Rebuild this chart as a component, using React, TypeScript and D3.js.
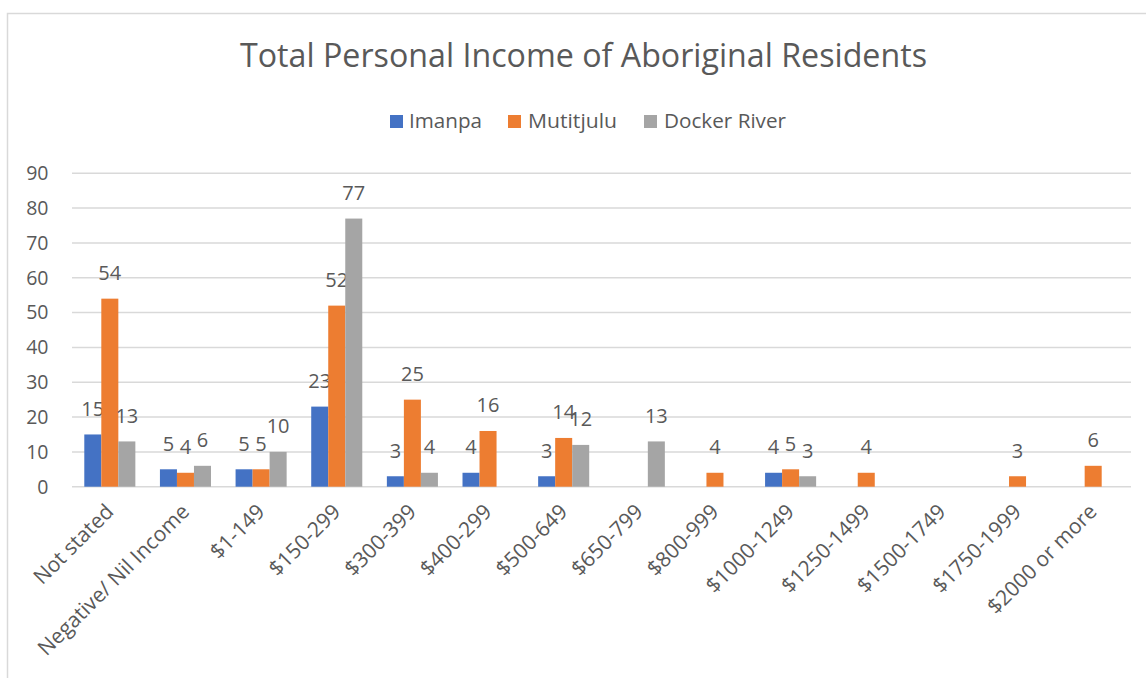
import React from "react";
import * as d3 from "d3";

const categories = [
  "Not stated",
  "Negative/ Nil Income",
  "$1-149",
  "$150-299",
  "$300-399",
  "$400-299",
  "$500-649",
  "$650-799",
  "$800-999",
  "$1000-1249",
  "$1250-1499",
  "$1500-1749",
  "$1750-1999",
  "$2000 or more",
];

const seriesNames = ["Imanpa", "Mutitjulu", "Docker River"];
const seriesColors = ["#4472C4", "#ED7D31", "#A5A5A5"];

const imanpa: (number | null)[] = [15, 5, 5, 23, 3, 4, 3, null, null, 4, null, null, null, null];
const mutitjulu: (number | null)[] = [54, 4, 5, 52, 25, 16, 14, null, 4, 5, 4, null, 3, 6];
const dockerRiver: (number | null)[] = [13, 6, 10, 77, 4, null, 12, 13, null, 3, null, null, null, null];

const yTicks = [0, 10, 20, 30, 40, 50, 60, 70, 80, 90];

const title = "Total Personal Income of Aboriginal Residents";

const FONT = "'Open Sans', sans-serif";
const TEXT = "#595959";
const GRID = "#D9D9D9";

export default function App() {
  const W = 1146;
  const H = 678;
  const left = 72;
  const right = 1131;
  const y = d3.scaleLinear().domain([0, 90]).range([486.7, 173.3]);
  const x0 = d3
    .scaleBand<string>()
    .domain(categories)
    .range([left, right])
    .paddingInner(0.325)
    .paddingOuter(0.1625);
  const x1 = d3.scaleBand<string>().domain(seriesNames).range([0, x0.bandwidth()]);
  const allSeries = [imanpa, mutitjulu, dockerRiver];

  const legendItems = [
    { sx: 390, tx: 409, tw: 73 },
    { sx: 508, tx: 528, tw: 89 },
    { sx: 644, tx: 664, tw: 122 },
  ];

  return (
    <svg
      width={W}
      height={H}
      style={{ position: "absolute", left: 0, top: 0, background: "#fff" }}
      fontFamily={FONT}
    >
      <rect x={7.5} y={13.5} width={W + 20} height={H + 20} fill="#fff" stroke={GRID} strokeWidth={1.5} />
      <text
        x={240}
        y={67.3}
        fontSize={32}
        fill={TEXT}
        textLength={687}
        lengthAdjust="spacingAndGlyphs"
      >
        {title}
      </text>
      {seriesNames.map((s, i) => (
        <g key={s}>
          <rect x={legendItems[i].sx} y={115} width={13} height={13} fill={seriesColors[i]} />
          <text
            x={legendItems[i].tx}
            y={128.3}
            fontSize={20}
            fill={TEXT}
            textLength={legendItems[i].tw}
            lengthAdjust="spacingAndGlyphs"
          >
            {s}
          </text>
        </g>
      ))}
      {yTicks.map((t) => (
        <g key={t}>
          <line x1={left} x2={right} y1={y(t)} y2={y(t)} stroke={GRID} strokeWidth={1.5} />
          <text x={48.5} y={y(t) + 6.9} textAnchor="end" fontSize={19.5} fill={TEXT}>
            {t}
          </text>
        </g>
      ))}
      {categories.map((c, ci) => (
        <g key={c} transform={`translate(${x0(c)},0)`}>
          {allSeries.map((vals, si) => {
            const v = vals[ci];
            if (v == null) return null;
            const bx = x1(seriesNames[si])!;
            return (
              <g key={si}>
                <rect
                  x={bx}
                  y={y(v)}
                  width={x1.bandwidth()}
                  height={y(0) - y(v)}
                  fill={seriesColors[si]}
                />
                <text
                  x={bx + x1.bandwidth() / 2}
                  y={y(v) - 18.5}
                  textAnchor="middle"
                  fontSize={20}
                  fill={TEXT}
                >
                  {v}
                </text>
              </g>
            );
          })}
        </g>
      ))}
      {categories.map((c) => {
        const cx = x0(c)! + x0.bandwidth() / 2;
        return (
          <text
            key={c}
            transform={`translate(${cx + 5},${513}) rotate(-45)`}
            textAnchor="end"
            fontSize={21}
            fill={TEXT}
          >
            {c}
          </text>
        );
      })}
    </svg>
  );
}
